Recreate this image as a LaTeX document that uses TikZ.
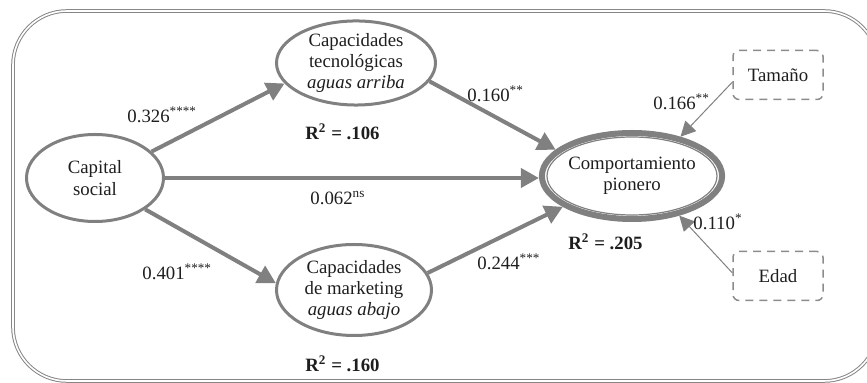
\documentclass[tikz,border=0pt]{standalone}
\usepackage{fontspec}
\setmainfont{Liberation Serif}
\usetikzlibrary{arrows.meta,shapes.geometric}
\definecolor{pathgray}{RGB}{128,128,128}
\definecolor{boxgray}{RGB}{140,140,140}
\definecolor{framegray}{RGB}{135,135,135}
\definecolor{textdark}{RGB}{30,30,30}

\begin{document}
\begin{tikzpicture}[x=0.5pt,y=-0.5pt,
  font=\fontsize{9.4}{10.6}\selectfont,text=textdark,
  latent/.style={ellipse,draw=pathgray,line width=1.5pt,align=center,inner sep=0pt},
  ctrlbox/.style={rectangle,draw=boxgray,dash pattern=on 4pt off 3pt,rounded corners=3pt,
    line width=0.75pt,minimum width=45pt,minimum height=24.5pt},
  effect/.style={draw=pathgray,line width=2pt,-{Triangle[length=9pt,width=9.5pt]}},
  ctrlpath/.style={draw=pathgray,line width=0.5pt,-{Triangle[length=7.5pt,width=7.5pt]}},
  coef/.style={anchor=base west,inner sep=0pt}]
\useasboundingbox (0,0) rectangle (867,383);
% frame
\draw[draw=framegray,double=white,double distance=0.8pt,line width=0.5pt,rounded corners=27pt]
  (13,11) rectangle (878,381);
% constructs
\node[latent,minimum width=68.5pt,minimum height=43.5pt] (capital) at (95,178) {Capital\\social};
\node[latent,minimum width=79.5pt,minimum height=41.5pt] (tecno) at (356,63)
  {Capacidades\\tecnológicas\\\textit{aguas arriba}};
\node[latent,minimum width=77.5pt,minimum height=45.5pt] (marketing) at (354,290)
  {Capacidades\\de marketing\\\textit{aguas abajo}};
\node[latent,line width=3pt,minimum width=89pt,minimum height=43pt] (pionero) at (632,176)
  {Comportamiento\\pionero};
\draw[pathgray,line width=0.6pt] (pionero.center) ellipse [x radius=42.5pt,y radius=19.5pt];
% controls
\node[ctrlbox] (tamano) at (778,75) {Tamaño};
\node[ctrlbox] (edad) at (778,276) {Edad};
% paths
\draw[effect] (capital.25) -- (tecno.196);
\draw[effect] (capital.-32) -- (marketing.175);
\draw[effect] (capital.east) -- (capital.east -| pionero.west);
\draw[effect] (tecno.-14) -- (pionero.161);
\draw[effect] (marketing.13) -- (pionero.204);
\draw[ctrlpath] (tamano.189) -- (pionero.39);
\draw[ctrlpath] (edad.176) -- (pionero.-40);
% coefficients
\node[coef] (b1) at (127,123) {0.326\textsuperscript{****}};
\node[coef] (b2) at (142,280) {0.401\textsuperscript{****}};
\node[coef] (b3) at (310,205) {0.062\textsuperscript{ns}};
\node[coef] (b4) at (467,102) {0.160\textsuperscript{**}};
\node[coef] (b5) at (477,270) {0.244\textsuperscript{***}};
\node[coef] (b6) at (653,110) {0.166\textsuperscript{**}};
\node[coef] (b7) at (693,230) {0.110\textsuperscript{*}};
% r squared
\node[coef] (r1) at (305,140) {\bfseries R\textsuperscript{2} = .106};
\node[coef] (r2) at (305,372) {\bfseries R\textsuperscript{2} = .160};
\node[coef] (r3) at (568,250) {\bfseries R\textsuperscript{2} = .205};
\end{tikzpicture}
\end{document}
